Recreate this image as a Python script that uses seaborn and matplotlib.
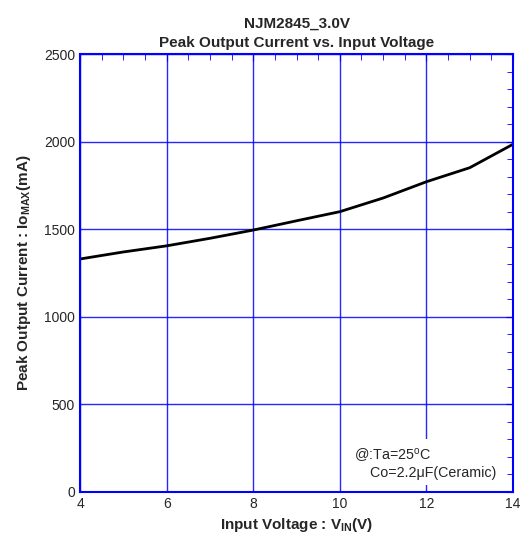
import pandas as pd
import seaborn as sns
import matplotlib.pyplot as plt
from matplotlib.ticker import MultipleLocator

vin = [4, 5, 6, 7, 8, 9, 10, 11, 12, 13, 14]
io_max = [1330, 1370, 1405, 1448, 1495, 1548, 1600, 1678, 1771, 1851, 1985]

sns.set_style("white")
plt.rcParams['font.family'] = ['Liberation Sans', 'DejaVu Sans']
plt.rcParams['mathtext.fontset'] = 'custom'
plt.rcParams['mathtext.rm'] = 'Liberation Sans'
plt.rcParams['mathtext.bf'] = 'Liberation Sans:bold'

blue = '#0000ff'
df = pd.DataFrame({'vin': vin, 'io': io_max})

fig = plt.figure(figsize=(5.31, 5.4), dpi=100)
ax = fig.add_axes([0.1507, 0.0889, 0.8155, 0.8111])
sns.lineplot(data=df, x='vin', y='io', ax=ax, color='black', linewidth=2, zorder=3)

ax.set_xlim(4, 14)
ax.set_ylim(0, 2500)
ax.xaxis.set_major_locator(MultipleLocator(2))
ax.xaxis.set_minor_locator(MultipleLocator(0.5))
ax.yaxis.set_major_locator(MultipleLocator(500))
ax.yaxis.set_minor_locator(MultipleLocator(100))
ax.grid(True, which='major', color=blue, linewidth=1.0, alpha=0.85)
for s in ax.spines.values():
    s.set_color(blue)
    s.set_linewidth(1.5)
    s.set_zorder(6)
ax.tick_params(which='both', direction='in', top=True, right=True, color=blue,
               labelsize=10)
ax.tick_params(which='major', length=5)
ax.tick_params(which='minor', length=4)

ax.set_xlabel('Input Voltage : V$_{\\mathbf{IN}}$(V)', fontsize=11, fontweight='bold', labelpad=4)
ax.set_ylabel('Peak Output Current : Io$_{\\mathbf{MAX}}$(mA)', fontsize=11, fontweight='bold', labelpad=8)
ax.set_title('NJM2845_3.0V\nPeak Output Current vs. Input Voltage', fontsize=11,
             fontweight='bold', pad=5, linespacing=1.45)

ax.text(0.632, 0.106, '@:Ta=25$^{\\mathrm{o}}$C\n    Co=2.2\u03bcF(Ceramic)', transform=ax.transAxes,
        fontsize=10.3, ha='left', va='top', linespacing=1.2, zorder=4,
        bbox=dict(facecolor='white', edgecolor='none', boxstyle='square,pad=0.35'))

plt.savefig('out.png', dpi=100)
